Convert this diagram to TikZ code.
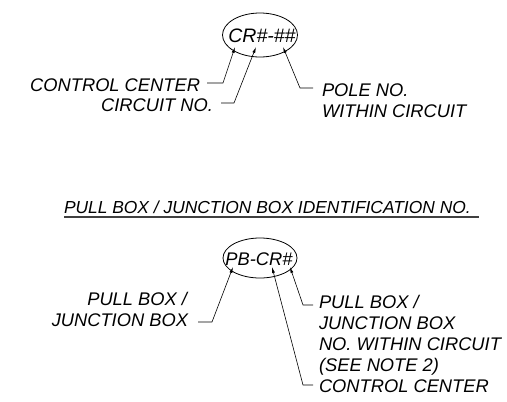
\documentclass[tikz,border=0pt]{standalone}
\usepackage{fontspec}
\setsansfont{Liberation Sans}
\usetikzlibrary{arrows.meta,shapes.geometric}

\begin{document}
\begin{tikzpicture}[x=1pt,y=-1pt,
  lbl/.style={inner sep=0pt,outer sep=0pt,text=black,font=\sffamily\itshape\fontsize{18.3}{22}\selectfont},
  ring/.style={draw,ellipse,inner sep=0pt,outer sep=0pt,line width=0.8pt},
  leader/.style={draw,line width=0.6pt,-{Latex[length=6pt,width=3pt]}}]
\path[use as bounding box] (0,0) rectangle (507,402);
\path[fill=white,draw=none] (0,0) rectangle (507,402);
% circuit identification
\node[ring,minimum width=75pt,minimum height=44pt] (crring) at (260,35) {};
\node[lbl,anchor=base,font=\sffamily\itshape\fontsize{19.5}{22}\selectfont] (crid) at (262,42) {CR\#-\#\#};
\coordinate (crtipa) at (235,47);
\coordinate (crtipb) at (256,47);
\coordinate (crtipc) at (283,47);
\node[lbl,anchor=base east] (crcc) at (200,91) {CONTROL CENTER};
\node[lbl,anchor=base east] (crno) at (213,111) {CIRCUIT NO.};
\node[lbl,anchor=base west] (crpole) at (322,96) {POLE NO.};
\node[lbl,anchor=base west] (crwithin) at (322,117) {WITHIN CIRCUIT};
\draw[leader] ([xshift=7pt,yshift=8pt]crcc.base east) -- ++(16,0) -- (crtipa);
\draw[leader] ([xshift=8pt,yshift=8pt]crno.base east) -- ++(13,0) -- (crtipb);
\draw[leader] ([xshift=-9pt,yshift=8pt]crpole.base west) -- ++(-13,0) -- (crtipc);
% pull box / junction box
\node[lbl,anchor=base west,font=\sffamily\itshape\fontsize{17.4}{21}\selectfont] (pbtitle) at (64,213) {PULL BOX / JUNCTION BOX IDENTIFICATION NO.};
\draw[line width=1.3pt,draw=black!75] ([yshift=-4pt]pbtitle.base west) -- ([xshift=8pt,yshift=-4pt]pbtitle.base east);
\node[ring,minimum width=74pt,minimum height=40pt] (pbring) at (260,258) {};
\node[lbl,anchor=base] (pbid) at (259,265) {PB-CR\#};
\coordinate (pbtipa) at (233,267);
\coordinate (pbtipb) at (272,267);
\coordinate (pbtipc) at (290,267);
\node[lbl,anchor=base east] (pbpull) at (187,305) {PULL BOX /};
\node[lbl,anchor=base east] (pbjunc) at (188,326) {JUNCTION BOX};
\node[lbl,anchor=base west] (pbnoa) at (319,308) {PULL BOX /};
\node[lbl,anchor=base west] (pbnob) at (319,329) {JUNCTION BOX};
\node[lbl,anchor=base west] (pbnoc) at (319,350) {NO. WITHIN CIRCUIT};
\node[lbl,anchor=base west] (pbnod) at (319,371) {(SEE NOTE 2)};
\node[lbl,anchor=base west] (pbnoe) at (319,392) {CONTROL CENTER};
\draw[leader] ([xshift=10pt,yshift=4pt]pbjunc.base east) -- ++(14,0) -- (pbtipa);
\draw[leader] ([xshift=-6pt,yshift=3pt]pbnoa.base west) -- ++(-10,0) -- (pbtipc);
\draw[leader] ([xshift=-6pt,yshift=7pt]pbnoe.base west) -- ++(-10,0) -- (pbtipb);
\end{tikzpicture}
\end{document}
